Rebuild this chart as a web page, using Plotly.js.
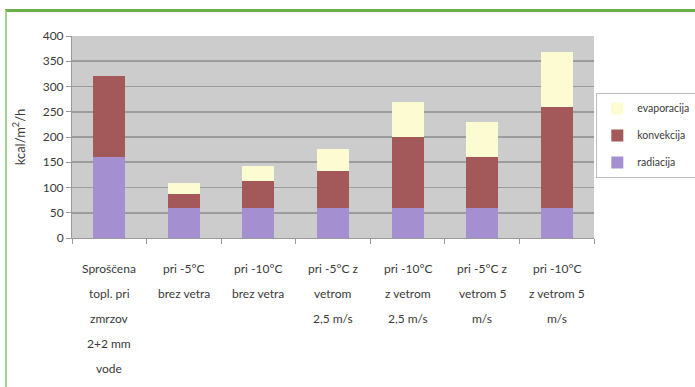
<!DOCTYPE html>
<html>
<head>
<meta charset="utf-8">
<script src="https://cdn.plot.ly/plotly-3.0.1.min.js"></script>
<style>
  html, body { margin: 0; padding: 0; background: #ffffff; }
  #frame { position: absolute; left: 5px; top: 9px; width: 700px; height: 376px;
           border-top: 3px solid #6aae45; border-left: 2px solid #a3d38a; pointer-events: none; z-index: 2; }
  #chart { position: absolute; left: 0; top: 0; width: 695px; height: 387px; }
</style>
</head>
<body>
<div id="frame"></div>
<div id="chart"></div>
<script>
// Categories (multi-line labels)
const categories = [
  "Sproščena\ntopl. pri\nzmrzov\n2+2 mm\nvode",
  "pri -5°C\nbrez vetra",
  "pri -10°C\nbrez vetra",
  "pri -5°C z\nvetrom\n2,5 m/s",
  "pri -10°C\nz vetrom\n2,5 m/s",
  "pri -5°C z\nvetrom 5\nm/s",
  "pri -10°C\nz vetrom 5\nm/s"
];
const catKeys = ["c1", "c2", "c3", "c4", "c5", "c6", "c7"];

// Series values (kcal/m²/h)
const radiacija   = [160, 60, 60, 60, 60, 60, 60];
const konvekcija  = [160, 28, 53, 72, 140, 100, 200];
const evaporacija = [0, 20, 30, 44, 70, 70, 108];

const yTicks = [0, 50, 100, 150, 200, 250, 300, 350, 400];

const FONT = "Lato, 'Liberation Sans', Arial, sans-serif";
const TXT = "#3a3a3a";

const series = [
  { name: "radiacija", y: radiacija, color: "#a48fd0", rank: 3 },
  { name: "konvekcija", y: konvekcija, color: "#a3595a", rank: 2 },
  { name: "evaporacija", y: evaporacija, color: "#fdfbd2", rank: 1 }
];
const traces = series.map((s) => ({
  type: "bar",
  name: s.name,
  x: catKeys,
  y: s.y,
  width: 0.43,
  legendgroup: s.name,
  legendrank: s.rank,
  marker: { color: s.color, line: { width: 0 } },
  hoverinfo: "name+y"
}));

// x category labels as line-by-line annotations (wide line spacing like reference)
const annotations = [];
categories.forEach((lab, ci) => {
  lab.split("\n").forEach((line, li) => {
    annotations.push({
      x: catKeys[ci], y: 0, xref: "x", yref: "y",
      text: line, showarrow: false,
      xanchor: "center", yanchor: "middle",
      yshift: -30 - 25 * li,
      font: { family: FONT, size: 12, color: TXT }
    });
  });
});

const layout = {
  width: 695, height: 387,
  margin: { l: 72, r: 101, t: 36, b: 149 },
  paper_bgcolor: "rgba(0,0,0,0)",
  plot_bgcolor: "#cccccc",
  barmode: "stack",
  bargap: 0.57,
  font: { family: FONT, size: 12, color: TXT },
  showlegend: true,
  legend: {
    xref: "container", yref: "container",
    x: 0.858, xanchor: "left", y: 0.76, yanchor: "top",
    traceorder: "grouped", tracegroupgap: 8,
    bordercolor: "#bdbdbd", borderwidth: 1, bgcolor: "#ffffff",
    font: { family: FONT, size: 10.5, color: TXT },
    itemwidth: 30
  },
  xaxis: {
    type: "category",
    showticklabels: false,
    tickson: "boundaries",
    ticks: "outside", ticklen: 5, tickcolor: "#9a9a9a",
    showline: true, linecolor: "#9a9a9a", linewidth: 1,
    showgrid: false,
    range: [-0.5, 6.5]
  },
  yaxis: {
    range: [0, 400],
    tickvals: yTicks,
    ticktext: yTicks.map(String),
    ticks: "outside", ticklen: 5, tickcolor: "#9a9a9a",
    showline: true, linecolor: "#9a9a9a", linewidth: 1,
    gridcolor: "#9c9c9c", gridwidth: 1.6,
    zeroline: false,
    tickfont: { family: FONT, size: 12, color: TXT },
    title: { text: "kcal/m<sup>2</sup>/h", standoff: 14,
             font: { family: FONT, size: 13, color: TXT } }
  },
  annotations: annotations
};

Plotly.newPlot("chart", traces, layout, { staticPlot: true, displayModeBar: false });
</script>
</body>
</html>
